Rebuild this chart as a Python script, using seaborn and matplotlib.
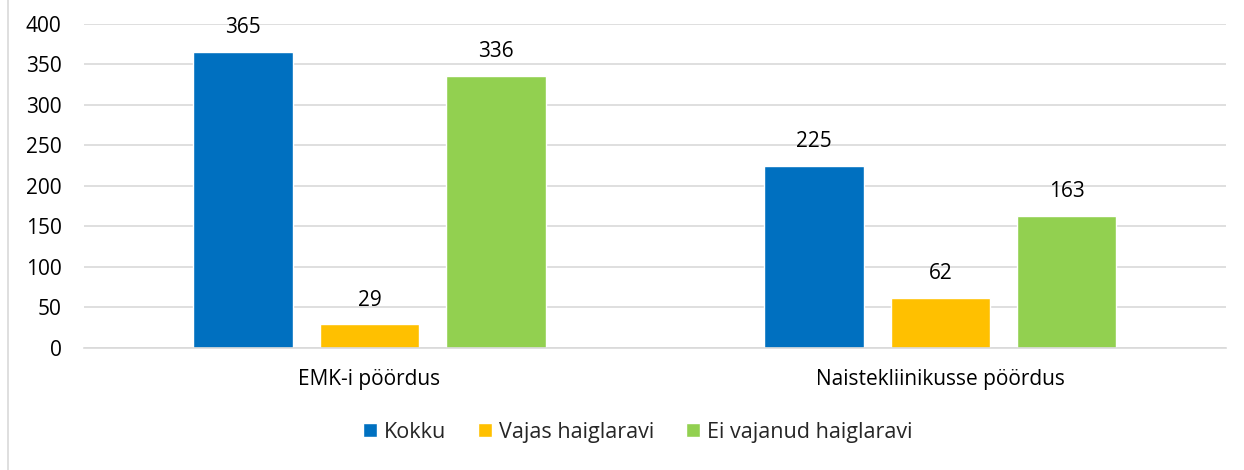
import pandas as pd
import matplotlib.pyplot as plt
from matplotlib.lines import Line2D
import seaborn as sns

categories = ["EMK-i pöördus", "Naistekliinikusse pöördus"]
series = ["Kokku", "Vajas haiglaravi", "Ei vajanud haiglaravi"]
values = {
    "Kokku": [365, 225],
    "Vajas haiglaravi": [29, 62],
    "Ei vajanud haiglaravi": [336, 163],
}
colors = ["#0070C0", "#FFC000", "#92D050"]

rows = []
for s in series:
    for c, v in zip(categories, values[s]):
        rows.append({"kategooria": c, "seeria": s, "arv": v})
df = pd.DataFrame(rows)

sns.set_style("white")
plt.rcParams["font.family"] = ["Open Sans", "DejaVu Sans"]
fs = 15

fig = plt.figure(figsize=(12.44, 4.70), dpi=100)
ax = fig.add_axes([0.0675, 0.2596, 0.918, 0.6894])

sns.barplot(
    data=df, x="kategooria", y="arv", hue="seeria", hue_order=series,
    palette=colors, width=0.663, gap=0.21, saturation=1, ax=ax, legend=True,
)

for cont in ax.containers:
    ax.bar_label(cont, padding=10, fontsize=fs, color="#000000")

ax.set_ylim(0, 400)
ax.set_xlim(-0.5, 1.5)
ax.set_yticks(range(0, 401, 50))
ax.yaxis.grid(True, color="#D9D9D9", linewidth=1.2)
ax.set_axisbelow(True)
for side in ["top", "right", "left"]:
    ax.spines[side].set_visible(False)
ax.spines["bottom"].set_color("#D9D9D9")
ax.spines["bottom"].set_linewidth(1.2)
ax.tick_params(axis="y", length=0, labelsize=fs, pad=16, colors="#000000")
ax.tick_params(axis="x", length=0, labelsize=fs, pad=15, colors="#000000")
ax.set_xlabel("")
ax.set_ylabel("")

ax.legend(
    loc="center", bbox_to_anchor=(0.485, -0.26), ncol=3, frameon=False,
    fontsize=15.5, handlelength=0.65, handleheight=0.65, handletextpad=0.3,
    columnspacing=1.5,
)

fig.add_artist(Line2D([8 / 1244, 8 / 1244], [0, 1], color="#D9D9D9", linewidth=1.2))

plt.savefig("out.png", dpi=100)
